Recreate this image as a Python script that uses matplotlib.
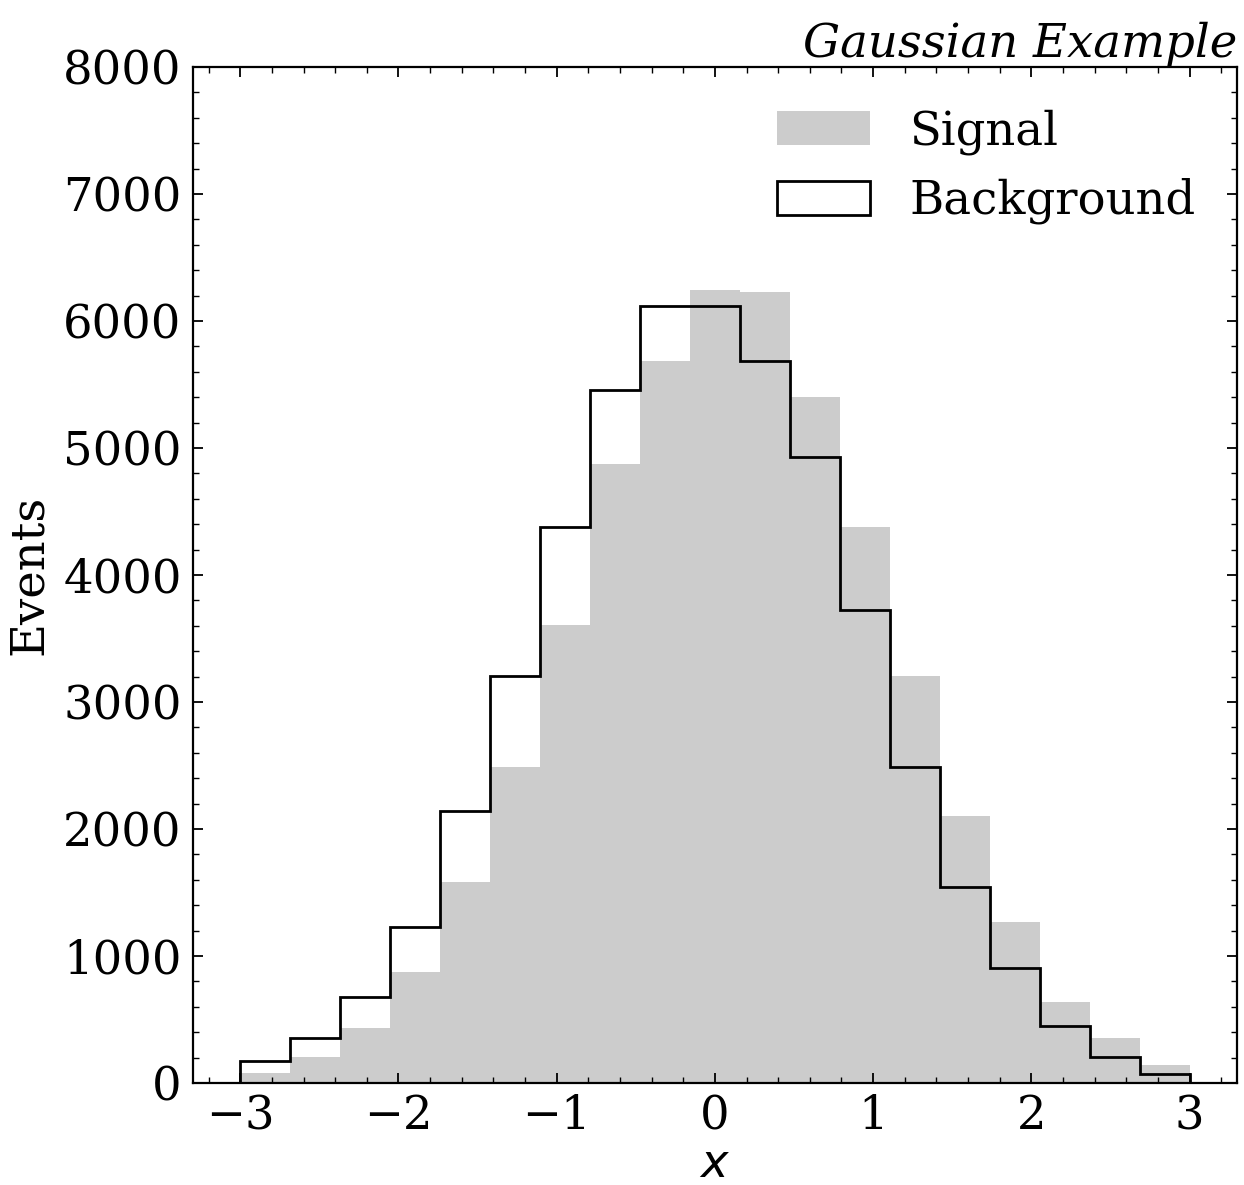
import numpy as np
import matplotlib
matplotlib.use('Agg')
import matplotlib.pyplot as plt
from matplotlib.ticker import MultipleLocator

# Histogram contents (19 equal bins from -3 to 3)
signal = [79, 205, 433, 874, 1583, 2488, 3606, 4874, 5685, 6244,
          6228, 5402, 4378, 3205, 2102, 1268, 638, 354, 142]
background = [173, 354, 677, 1228, 2142, 3205, 4378, 5457, 6118, 6118,
              5685, 4929, 3724, 2488, 1543, 906, 449, 205, 71]
x_range = (-3, 3)
n_bins = 19

edges = np.linspace(x_range[0], x_range[1], n_bins + 1)
centers = 0.5 * (edges[:-1] + edges[1:])

fs = 33.5
plt.rcParams['font.family'] = 'DejaVu Serif'
plt.rcParams['font.size'] = fs
plt.rcParams['xtick.direction'] = 'in'
plt.rcParams['ytick.direction'] = 'in'
plt.rcParams['xtick.top'] = True
plt.rcParams['ytick.right'] = True

fig = plt.figure(figsize=(12.44, 11.85), dpi=100)
ax = fig.add_axes([0.155, 0.0861, 0.8394, 0.8574])

ax.hist(centers, bins=edges, weights=signal, histtype='stepfilled',
        color='#cccccc', label='Signal')
ax.hist(centers, bins=edges, weights=background, histtype='step',
        color='black', linewidth=2.0, label='Background')

ax.set_xlim(-3.3, 3.3)
ax.set_ylim(0, 8000)
ax.xaxis.set_major_locator(MultipleLocator(1))
ax.xaxis.set_minor_locator(MultipleLocator(0.2))
ax.yaxis.set_major_locator(MultipleLocator(1000))
ax.yaxis.set_minor_locator(MultipleLocator(200))
ax.tick_params(which='major', length=7, width=1.3, labelsize=fs, pad=8)
ax.tick_params(which='minor', length=4, width=1.0)
for s in ax.spines.values():
    s.set_linewidth(1.6)

ax.set_xlabel('$x$', fontsize=fs, labelpad=2)
ax.set_ylabel('Events', fontsize=fs, labelpad=8)
ax.set_title('Gaussian Example', loc='right', style='italic', fontsize=fs, pad=4)

leg = ax.legend(loc='upper right', frameon=False, fontsize=fs,
                handlelength=2.0, handleheight=0.75, handletextpad=0.84,
                borderaxespad=0.5)

fig.savefig('out.png', dpi=100)
